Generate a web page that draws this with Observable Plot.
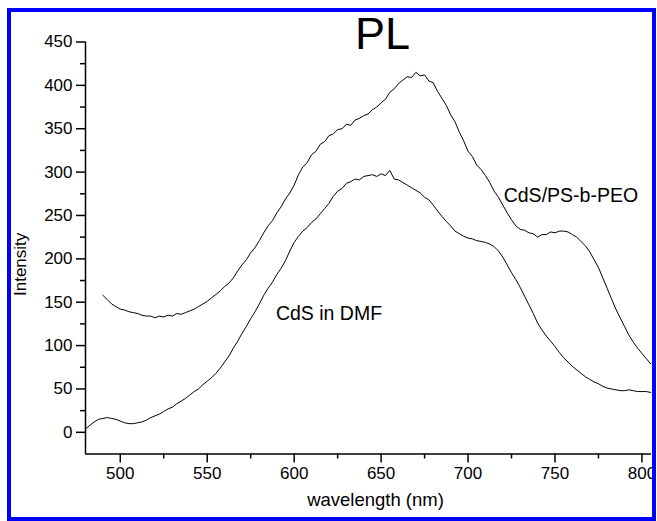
<!DOCTYPE html>
<html>
<head>
<meta charset="utf-8">
<script src="https://cdn.jsdelivr.net/npm/d3@7"></script>
<script src="https://cdn.jsdelivr.net/npm/@observablehq/plot@0.6"></script>
<style>
  html, body { margin: 0; padding: 0; background: #fff; }
  #wrap { position: relative; width: 657px; height: 521px; overflow: hidden; }
  #wrap svg { position: absolute; left: 0; top: 0; }
  #border { position: absolute; left: 7px; top: 8px; width: 649px; height: 513px; box-sizing: border-box; border: 4px solid #0000ff; pointer-events: none; }
</style>
</head>
<body>
<div id="wrap"><div id="border"></div></div>
<script>
// CdS/PS-b-PEO (upper curve)
const peoWavelength = [490,492.5,495,497.5,500,502.5,505,507.5,510,512.5,515,517.5,520,522.5,525,527.5,530,532.5,535,537.5,540,542.5,545,547.5,550,552.5,555,557.5,560,562.5,565,567.5,570,572.5,575,577.5,580,582.5,585,587.5,590,592.5,595,597.5,600,602.5,605,607.5,610,612.5,615,617.5,620,622.5,625,627.5,630,632.5,635,637.5,640,642.5,645,647.5,650,652.5,655,657.5,660,662.5,665,667.5,670,672.5,675,677.5,680,682.5,685,687.5,690,692.5,695,697.5,700,702.5,705,707.5,710,712.5,715,717.5,720,722.5,725,727.5,730,732.5,735,737.5,740,742.5,745,747.5,750,752.5,755,757.5,760,762.5,765,767.5,770,772.5,775,777.5,780,782.5,785,787.5,790,792.5,795,797.5,800,802.5,805];
const peoIntensity = [158,153,148,145,142,141,139,138,137,135,134,134,132,134,133,135,134,137,136,138,140,142,145,148,151,155,159,163,168,172,178,186,193,199,207,213,221,230,238,244,253,260,269,276,285,297,306,311,320,324,332,335,342,344,349,350,355,354,360,362,365,367,372,375,380,384,392,396,402,406,410,409,415,411,412,405,403,393,385,377,366,358,346,336,324,318,308,303,296,288,278,271,262,253,245,238,234,233,230,229,225,228,228,231,230,232,232,231,228,225,220,215,208,199,190,178,166,154,142,132,122,112,104,97,91,85,79];
// CdS in DMF (lower curve)
const dmfWavelength = [480,482.5,485,487.5,490,492.5,495,497.5,500,502.5,505,507.5,510,512.5,515,517.5,520,522.5,525,527.5,530,532.5,535,537.5,540,542.5,545,547.5,550,552.5,555,557.5,560,562.5,565,567.5,570,572.5,575,577.5,580,582.5,585,587.5,590,592.5,595,597.5,600,602.5,605,607.5,610,612.5,615,617.5,620,622.5,625,627.5,630,632.5,635,637.5,640,642.5,645,647.5,650,652.5,655,657.5,660,662.5,665,667.5,670,672.5,675,677.5,680,682.5,685,687.5,690,692.5,695,697.5,700,702.5,705,707.5,710,712.5,715,717.5,720,722.5,725,727.5,730,732.5,735,737.5,740,742.5,745,747.5,750,752.5,755,757.5,760,762.5,765,767.5,770,772.5,775,777.5,780,782.5,785,787.5,790,792.5,795,797.5,800,802.5,805];
const dmfIntensity = [4,8,12,15,16,17,16,15,13,11,10,10,11,12,14,17,19,21,24,27,29,33,36,39,43,47,50,55,59,63,68,74,81,88,97,105,114,122,131,139,148,158,166,173,182,189,198,209,219,226,232,236,242,246,252,258,264,272,278,281,287,289,292,291,295,296,297,295,298,296,302,292,291,288,285,282,279,276,271,268,262,255,249,243,238,232,229,226,224,223,221,220,219,217,214,209,202,193,184,176,167,157,147,137,126,118,111,105,99,92,86,81,76,72,68,64,61,58,56,53,51,50,49,48,48,49,48,47,47,47,46];

const xMajor = [500,550,600,650,700,750,800];
const xMinor = [525,575,625,675,725,775];
const yMajor = [0,50,100,150,200,250,300,350,400,450];
const yMinor = [25,75,125,175,225,275,325,375,425];

const titleText = "PL";
const xLabel = "wavelength (nm)";
const yLabel = "Intensity";
const seriesLabels = [
  {name: "CdS/PS-b-PEO", x: 720.5, y: 266},
  {name: "CdS in DMF", x: 589.5, y: 129}
];

const peo = peoWavelength.map((w, i) => ({w, v: peoIntensity[i]}));
const dmf = dmfWavelength.map((w, i) => ({w, v: dmfIntensity[i]}));

const font = "'Liberation Sans', Arial, Helvetica, sans-serif";
const xDom = [480, 805.5];
const yDom = [-25, 450];

const chart = Plot.plot({
  width: 657,
  height: 521,
  marginLeft: 85,
  marginRight: 6,
  marginTop: 41.5,
  marginBottom: 67.5,
  style: {fontFamily: font, background: "transparent", color: "#000", overflow: "visible"},
  x: {domain: xDom, label: null},
  y: {domain: yDom, label: null},
  marks: [
    Plot.axisX(xMajor, {tickSize: 9, tickPadding: 4, fontSize: 17, strokeWidth: 1.5, label: null}),
    Plot.axisX(xMinor, {tickSize: 5, tickFormat: () => "", strokeWidth: 1.5, label: null}),
    Plot.axisY(yMajor, {tickSize: 9, tickPadding: 4, fontSize: 17, strokeWidth: 1.5, label: null}),
    Plot.axisY(yMinor, {tickSize: 5, tickFormat: () => "", strokeWidth: 1.5, label: null}),
    Plot.ruleX([xDom[0]], {y1: yDom[0], y2: yDom[1], strokeWidth: 1.5}),
    Plot.ruleY([yDom[0]], {x1: xDom[0], x2: xDom[1], strokeWidth: 1.5}),
    Plot.line(peo, {x: "w", y: "v", stroke: "#000", strokeWidth: 1}),
    Plot.line(dmf, {x: "w", y: "v", stroke: "#000", strokeWidth: 1}),
    Plot.text(seriesLabels, {x: "x", y: "y", text: "name", textAnchor: "start", lineAnchor: "bottom", fontSize: 19.5, fill: "#000"}),
    Plot.text([titleText], {frameAnchor: "top", dx: 14, dy: 6.5, lineAnchor: "bottom", fontSize: 45, fill: "#000"}),
    Plot.text([xLabel], {frameAnchor: "bottom", dx: 7, dy: 52, lineAnchor: "bottom", fontSize: 18.5, fill: "#000"}),
    Plot.text([yLabel], {frameAnchor: "left", dx: -60, dy: 48, rotate: -90, lineAnchor: "bottom", fontSize: 17, fill: "#000"})
  ]
});
document.getElementById("wrap").prepend(chart);
</script>
</body>
</html>
